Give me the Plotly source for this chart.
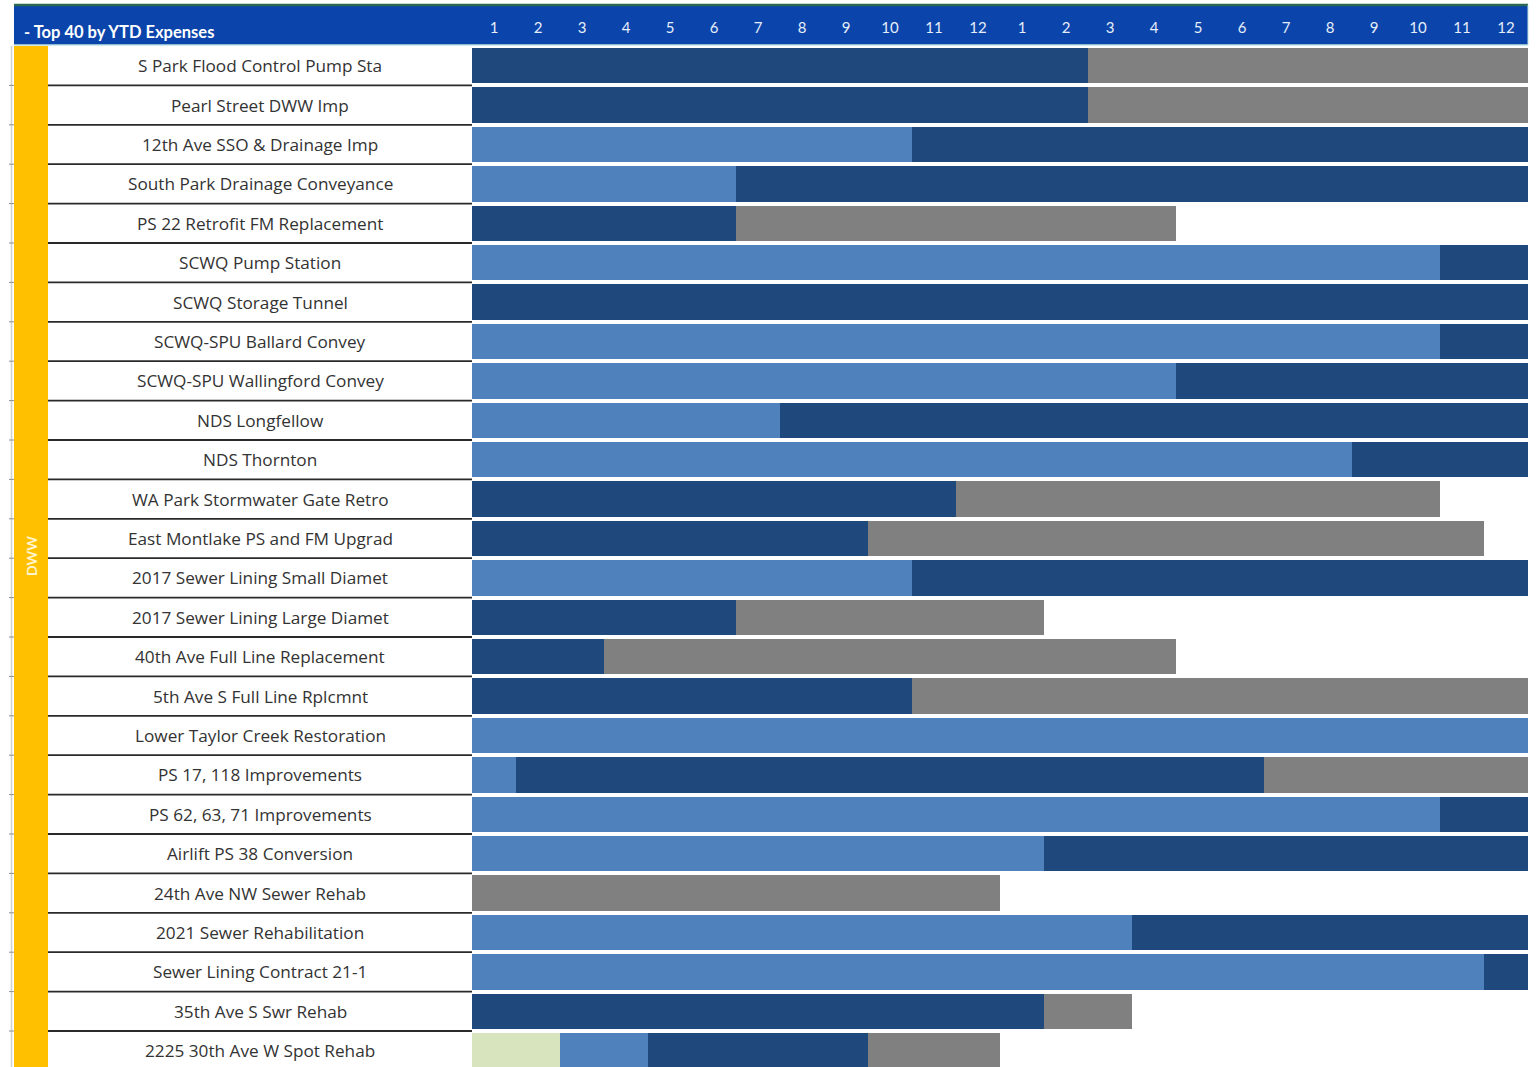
import plotly.graph_objects as go

W, H = 1536, 1067

projects = [
    "S Park Flood Control Pump Sta", "Pearl Street DWW Imp", "12th Ave SSO & Drainage Imp",
    "South Park Drainage Conveyance", "PS 22 Retrofit FM Replacement", "SCWQ Pump Station",
    "SCWQ Storage Tunnel", "SCWQ-SPU Ballard Convey", "SCWQ-SPU Wallingford Convey",
    "NDS Longfellow", "NDS Thornton", "WA Park Stormwater Gate Retro",
    "East Montlake PS and FM Upgrad", "2017 Sewer Lining Small Diamet",
    "2017 Sewer Lining Large Diamet", "40th Ave Full Line Replacement",
    "5th Ave S Full Line Rplcmnt", "Lower Taylor Creek Restoration",
    "PS 17, 118 Improvements", "PS 62, 63, 71 Improvements", "Airlift PS 38 Conversion",
    "24th Ave NW Sewer Rehab", "2021 Sewer Rehabilitation", "Sewer Lining Contract 21-1",
    "35th Ave S Swr Rehab", "2225 30th Ave W Spot Rehab",
]

# months spent in each phase (sequential phases, stacked left to right)
phase1_months = [0, 0, 0, 0, 0, 0, 0, 0, 0, 0, 0, 0, 0, 0, 0, 0, 0, 0, 0, 0, 0, 0, 0, 0, 0, 2]
phase2_months = [0, 0, 10, 6, 0, 22, 0, 22, 16, 7, 20, 0, 0, 10, 0, 0, 0, 24, 1, 22, 13, 0, 15, 23, 0, 2]
phase3_months = [14, 14, 14, 18, 6, 2, 24, 2, 8, 17, 4, 11, 9, 14, 6, 3, 10, 0, 17, 2, 11, 0, 9, 1, 13, 5]
phase4_months = [10, 10, 0, 0, 10, 0, 0, 0, 0, 0, 0, 11, 14, 0, 7, 13, 14, 0, 6, 0, 0, 12, 0, 0, 2, 3]

month_labels = [str(m) for m in range(1, 13)] * 2
group_label = "DWW"
header_title = "- Top 40 by YTD Expenses"

phase_colors = ["#D7E4BD", "#4F81BD", "#1F497D", "#808080"]

rows = list(range(len(projects)))

def px_x(p):
    return p / W

def px_y(p):
    return 1 - p / H

fig = go.Figure()
for vals, col in zip([phase1_months, phase2_months, phase3_months, phase4_months], phase_colors):
    fig.add_trace(go.Bar(
        y=rows, x=vals, orientation="h", marker=dict(color=col, line=dict(width=0)),
        width=0.9, showlegend=False, hoverinfo="skip",
    ))

TOP = 46.0
PITCH = 39.4
y_bottom = -0.5 + (H - TOP) / PITCH

shapes = []
# header bar
shapes.append(dict(type="rect", xref="paper", yref="paper", x0=px_x(14), x1=px_x(1528),
                   y0=px_y(45), y1=px_y(5), fillcolor="#0B45AB", line=dict(width=0), layer="below"))
shapes.append(dict(type="line", xref="paper", yref="paper", x0=px_x(14), x1=px_x(1528),
                   y0=px_y(5), y1=px_y(5), line=dict(color="#2A6A52", width=2.5)))
shapes.append(dict(type="line", xref="paper", yref="paper", x0=px_x(14), x1=px_x(1528),
                   y0=px_y(45), y1=px_y(45), line=dict(color="#BFE3E3", width=1.5)))
shapes.append(dict(type="line", xref="paper", yref="paper", x0=px_x(1528), x1=px_x(1528),
                   y0=px_y(45), y1=px_y(5), line=dict(color="#BFE3E3", width=1)))
# yellow group band
shapes.append(dict(type="rect", xref="paper", yref="paper", x0=px_x(14), x1=px_x(48),
                   y0=0, y1=px_y(46), fillcolor="#FFC000", line=dict(width=0), layer="below"))
# sheet edge line
shapes.append(dict(type="line", xref="paper", yref="paper", x0=px_x(11.5), x1=px_x(11.5),
                   y0=0, y1=px_y(46), line=dict(color="#D0D0D0", width=1.5)))
# row separators in label column
for i in rows[:-1]:
    shapes.append(dict(type="line", xref="paper", yref="y", x0=px_x(48), x1=px_x(472),
                       y0=i + 0.5, y1=i + 0.5, line=dict(color="#2A2A2A", width=1.8)))
    shapes.append(dict(type="line", xref="paper", yref="y", x0=px_x(9), x1=px_x(14),
                       y0=i + 0.5, y1=i + 0.5, line=dict(color="#909090", width=1)))

annotations = []
for i, name in zip(rows, projects):
    annotations.append(dict(xref="paper", yref="y", x=px_x(260), y=i, text=name, showarrow=False,
                            xanchor="center", yanchor="middle",
                            font=dict(family="Open Sans", size=17.2, color="#333333")))
annotations.append(dict(xref="paper", yref="paper", x=px_x(22), y=px_y(32), text="<b>" + header_title + "</b>",
                        showarrow=False, xanchor="left", yanchor="middle",
                        font=dict(family="Lato", size=16.5, color="#FFFFFF")))
annotations.append(dict(xref="paper", yref="paper", x=px_x(31), y=px_y(556), text="<b>" + group_label + "</b>",
                        showarrow=False, textangle=-90, xanchor="center", yanchor="middle",
                        font=dict(family="Lato", size=14, color="#FFF4CC")))

fig.update_layout(
    width=W, height=H, margin=dict(l=0, r=0, t=0, b=0),
    paper_bgcolor="white", plot_bgcolor="white",
    barmode="stack", bargap=0.1,
    shapes=shapes, annotations=annotations,
    xaxis=dict(domain=[px_x(472), px_x(1528)], range=[0, 24], side="top",
               tickmode="array", tickvals=[k + 0.5 for k in range(24)], ticktext=month_labels,
               ticks="", showgrid=False, zeroline=False, showline=False,
               ticklabelstandoff=9,
               tickfont=dict(family="Lato", size=15, color="#E6EEF8")),
    yaxis=dict(domain=[0, px_y(TOP)], range=[y_bottom, -0.5], showticklabels=False,
               showgrid=False, zeroline=False, showline=False, ticks=""),
)

fig.write_html("out.html", config={"displayModeBar": False},
               post_script="document.body.style.margin='0';document.body.style.overflow='hidden';")
